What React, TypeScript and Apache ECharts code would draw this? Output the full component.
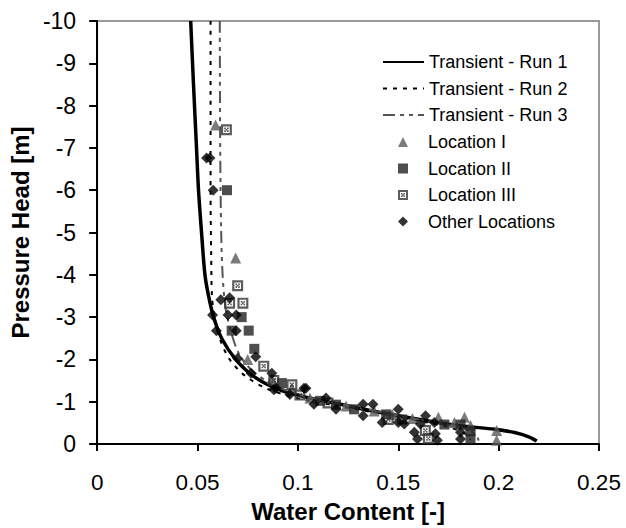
import React, { useEffect, useRef } from "react";
import * as echarts from "echarts";

const xTicks = [0, 0.05, 0.1, 0.15, 0.2, 0.25];
const yTicks = [-10, -9, -8, -7, -6, -5, -4, -3, -2, -1, 0];

const lineNames = ["Transient - Run 1", "Transient - Run 2", "Transient - Run 3"];
const pointNames = ["Location I", "Location II", "Location III", "Other Locations"];

const run1: [number, number][] = [
  [0.0466, -10], [0.048, -8.5], [0.0495, -7], [0.0505, -6], [0.052, -5], [0.0537, -4],
  [0.0555, -3.5], [0.058, -3], [0.062, -2.5], [0.069, -2], [0.078, -1.6], [0.09, -1.3],
  [0.103, -1.12], [0.12, -0.95], [0.136, -0.79], [0.152, -0.65], [0.168, -0.52],
  [0.183, -0.42], [0.198, -0.35], [0.208, -0.27], [0.215, -0.17], [0.219, -0.07],
];
const run2: [number, number][] = [
  [0.0565, -10], [0.0565, -6], [0.0568, -4.5], [0.0572, -3.5], [0.0585, -3], [0.061, -2.5],
  [0.066, -2.0], [0.074, -1.6], [0.085, -1.3], [0.1, -1.08], [0.12, -0.9], [0.14, -0.73],
  [0.16, -0.55], [0.175, -0.4], [0.183, -0.25], [0.186, -0.1],
];
const run3: [number, number][] = [
  [0.0611, -10], [0.0613, -7], [0.0618, -5], [0.0625, -4], [0.064, -3.2], [0.067, -2.6],
  [0.071, -2.1], [0.078, -1.7], [0.088, -1.4], [0.1, -1.17], [0.12, -0.95], [0.14, -0.77],
  [0.16, -0.58], [0.175, -0.45], [0.185, -0.33], [0.189, -0.2], [0.19, -0.08],
];
const locationI: [number, number][] = [
  [0.059, -7.54], [0.069, -4.4], [0.075, -2.0], [0.087, -1.55], [0.097, -1.32], [0.106, -1.09],
  [0.124, -0.9], [0.138, -0.78], [0.147, -0.7], [0.157, -0.6], [0.17, -0.63], [0.178, -0.51],
  [0.183, -0.63], [0.186, -0.44], [0.199, -0.32], [0.199, -0.09],
];
const locationII: [number, number][] = [
  [0.0647, -6.0], [0.072, -3.0], [0.0755, -2.68], [0.067, -2.68], [0.0783, -2.25], [0.092, -1.44],
  [0.111, -1.02], [0.119, -0.93], [0.128, -0.82], [0.144, -0.7], [0.152, -0.58], [0.173, -0.46],
  [0.181, -0.46], [0.186, -0.3], [0.186, -0.12],
];
const locationIII: [number, number][] = [
  [0.0644, -7.43], [0.07, -3.74], [0.0726, -3.33], [0.066, -3.33], [0.083, -1.84], [0.088, -1.5],
  [0.097, -1.4], [0.101, -1.16], [0.115, -0.97], [0.145, -0.58], [0.1635, -0.32], [0.165, -0.13],
];
const otherLocations: [number, number][] = [
  [0.0562, -6.76], [0.0545, -6.76], [0.0578, -6.0], [0.0616, -3.41], [0.0575, -3.05], [0.0652, -3.05],
  [0.0693, -3.05], [0.0594, -2.68], [0.0693, -2.68], [0.066, -3.46], [0.07, -2.02], [0.079, -2.06],
  [0.0767, -1.67], [0.087, -1.67], [0.088, -1.28], [0.096, -1.17], [0.104, -1.32], [0.108, -0.94],
  [0.114, -1.09], [0.119, -0.82], [0.1325, -0.94], [0.1374, -0.94], [0.1325, -0.67], [0.142, -0.51],
  [0.15, -0.82], [0.15, -0.51], [0.153, -0.47], [0.161, -0.47], [0.1636, -0.67], [0.158, -0.28],
  [0.1596, -0.12], [0.1685, -0.24], [0.1695, -0.09], [0.168, -0.51], [0.181, -0.28], [0.181, -0.12],
  [0.089, -1.32], [0.103, -1.32],
];

const FONT = "'Liberation Sans', Arial, sans-serif";
const III_SYMBOL =
  "path://M0 0H10V10H0Z M2 2V8H8V2Z M3 3H4.5V4.5H3Z M5.5 3H7V4.5H5.5Z M3 5.5H4.5V7H3Z M5.5 5.5H7V7H5.5Z M4.25 4.25H5.75V5.75H4.25Z";

export default function App() {
  const ref = useRef<HTMLDivElement>(null);
  useEffect(() => {
    if (!ref.current) return;
    const chart = echarts.init(ref.current, null, { renderer: "svg" });
    const legendText = { fontSize: 18, color: "#000", fontFamily: FONT, lineHeight: 18 };
    chart.setOption({
      animation: false,
      backgroundColor: "#fff",
      textStyle: { fontFamily: FONT },
      grid: {
        left: 91, top: 21, right: 27, bottom: 76,
        show: true, borderColor: "#999", borderWidth: 2, backgroundColor: "transparent",
      },
      legend: [
        {
          orient: "vertical",
          left: 377,
          top: 48,
          itemWidth: 41,
          itemHeight: 10,
          itemGap: 8.5,
          textStyle: legendText,
          data: lineNames.map((n) => ({ name: n, itemStyle: { opacity: 0 } })),
        },
        {
          orient: "vertical",
          left: 393,
          top: 128,
          itemWidth: 10,
          itemHeight: 10,
          itemGap: 8.5,
          textStyle: { ...legendText, padding: [0, 0, 0, 15] },
          data: pointNames,
        },
      ],
      xAxis: {
        type: "value",
        min: xTicks[0],
        max: xTicks[xTicks.length - 1],
        interval: 0.05,
        splitLine: { show: false },
        axisLine: { lineStyle: { color: "#000", width: 2 } },
        axisTick: { show: true, length: 7, lineStyle: { color: "#000", width: 2 } },
        axisLabel: { fontSize: 22.5, color: "#000", margin: 27, fontFamily: FONT },
        name: "Water Content [-]",
        nameLocation: "middle",
        nameGap: 55,
        nameTextStyle: { fontSize: 24, fontWeight: "bold", color: "#000", fontFamily: FONT },
      },
      yAxis: {
        type: "value",
        min: yTicks[0],
        max: yTicks[yTicks.length - 1],
        interval: 1,
        inverse: true,
        splitLine: { show: false },
        axisLine: { lineStyle: { color: "#000", width: 2 } },
        axisTick: { show: true, length: 8, lineStyle: { color: "#000", width: 2 } },
        axisLabel: { fontSize: 23, color: "#000", margin: 21, fontFamily: FONT },
        name: "Pressure Head [m]",
        nameLocation: "middle",
        nameGap: 58,
        nameTextStyle: { fontSize: 24, fontWeight: "bold", color: "#000", fontFamily: FONT },
      },
      series: [
        {
          name: lineNames[0], type: "line", data: run1, symbol: "none", smooth: 0.3,
          lineStyle: { color: "#000", width: 3.5 }, itemStyle: { color: "#000" }, z: 3,
        },
        {
          name: lineNames[1], type: "line", data: run2, symbol: "none", smooth: 0.3,
          lineStyle: { color: "#000", width: 2, type: [4, 6] }, itemStyle: { color: "#000" }, z: 3,
        },
        {
          name: lineNames[2], type: "line", data: run3, symbol: "none", smooth: 0.3,
          lineStyle: { color: "#555", width: 2, type: [12, 5, 4, 5, 4, 5] }, itemStyle: { color: "#555" }, z: 3,
        },
        {
          name: pointNames[0], type: "scatter", data: locationI, symbol: "triangle", symbolSize: 11,
          itemStyle: { color: "#5a5a5a" }, z: 4,
        },
        {
          name: pointNames[1], type: "scatter", data: locationII, symbol: "rect", symbolSize: 10,
          itemStyle: { color: "#222" }, z: 4,
        },
        {
          name: pointNames[2], type: "scatter", data: locationIII, symbol: III_SYMBOL, symbolSize: 11,
          itemStyle: { color: "#333" }, z: 4,
        },
        {
          name: pointNames[3], type: "scatter", data: otherLocations, symbol: "diamond", symbolSize: 11,
          itemStyle: { color: "#000" }, z: 5,
        },
      ],
    });
    return () => chart.dispose();
  }, []);
  return <div ref={ref} style={{ width: 626, height: 528, position: "absolute", left: 0, top: 0 }} />;
}
